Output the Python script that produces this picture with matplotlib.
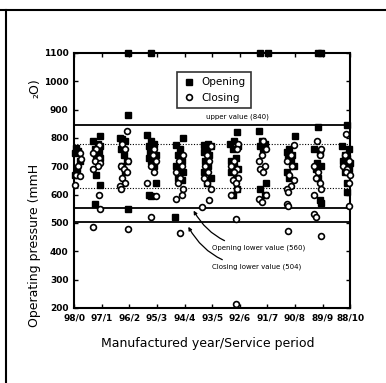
import matplotlib.pyplot as plt
from matplotlib.lines import Line2D

# x labels: manufactured year / service period
periods = ["98/0", "97/1", "96/2", "95/3", "94/4", "93/5",
           "92/6", "91/7", "90/8", "89/9", "88/10"]

# opening pressure (mmH2O) per group, with x offset from the tick
open_y = [
    [765, 755, 745, 720, 690, 670],
    [805, 790, 780, 770, 760, 750, 740, 730, 720, 670, 635, 565],
    [1100, 880, 800, 795, 790, 760, 740, 720, 700, 680, 550],
    [1100, 810, 790, 780, 770, 760, 750, 740, 730, 720, 700, 640, 600, 595],
    [800, 775, 760, 740, 720, 700, 690, 680, 660, 650, 520],
    [780, 775, 770, 760, 750, 740, 720, 700, 680, 660, 640],
    [820, 790, 780, 770, 760, 730, 720, 700, 690, 680, 660, 620, 600],
    [1100, 1100, 825, 790, 780, 770, 760, 640, 620, 600],
    [805, 760, 750, 740, 730, 720, 700, 680, 660],
    [1100, 1100, 840, 760, 750, 710, 700, 690, 660, 580, 570],
    [845, 770, 760, 740, 730, 720, 710, 700, 690, 680, 640, 610],
]
open_dx = [
    [0.08, 0.15, 0.05, 0.2, 0.1, 0.05],
    [-0.05, -0.3, -0.15, -0.05, -0.25, -0.1, -0.2, -0.05, -0.15, -0.2, -0.05, -0.25],
    [-0.05, -0.05, -0.35, -0.25, -0.15, -0.3, -0.2, -0.1, -0.25, -0.15, -0.05],
    [-0.2, -0.35, -0.2, -0.1, -0.3, -0.15, -0.25, -0.05, -0.3, -0.2, -0.1, -0.05, -0.3, -0.2],
    [-0.05, -0.3, -0.15, -0.25, -0.1, -0.3, -0.15, -0.05, -0.25, -0.1, -0.35],
    [-0.15, -0.3, -0.05, -0.2, -0.3, -0.1, -0.25, -0.15, -0.3, -0.05, -0.2],
    [-0.1, -0.2, -0.35, -0.05, -0.25, -0.15, -0.3, -0.2, -0.05, -0.3, -0.15, -0.1, -0.25],
    [-0.25, 0.03, -0.3, -0.2, -0.1, -0.25, -0.15, -0.05, -0.25, -0.1],
    [0.0, -0.2, -0.3, -0.1, -0.25, -0.15, -0.05, -0.3, -0.2],
    [-0.15, -0.05, -0.15, -0.3, -0.1, -0.2, -0.05, -0.25, -0.15, -0.1, -0.05],
    [-0.1, -0.3, -0.05, -0.2, -0.1, -0.25, 0.0, -0.15, -0.05, -0.2, -0.1, -0.1],
]

# closing pressure (mmH2O) per group, with x offset from the tick
close_y = [
    [745, 725, 700, 670, 665, 635],
    [775, 760, 745, 730, 720, 710, 700, 690, 600, 550, 485],
    [825, 780, 760, 720, 700, 690, 680, 660, 640, 630, 620, 480],
    [760, 740, 720, 700, 680, 640, 595, 520],
    [740, 720, 700, 680, 660, 640, 620, 600, 585, 465],
    [770, 740, 720, 700, 680, 660, 640, 620, 580, 555],
    [780, 760, 720, 700, 690, 680, 660, 650, 640, 620, 600, 515, 215],
    [790, 760, 740, 720, 700, 690, 680, 600, 585, 575],
    [775, 740, 720, 700, 670, 650, 630, 620, 610, 565, 560, 470],
    [790, 760, 740, 700, 680, 660, 640, 620, 600, 530, 520, 455],
    [815, 740, 720, 700, 690, 680, 670, 640, 560],
]
close_dx = [
    [0.2, 0.25, 0.15, 0.08, 0.22, 0.04],
    [-0.1, -0.2, -0.3, -0.1, -0.25, -0.05, -0.15, -0.3, -0.1, -0.05, -0.3],
    [-0.1, -0.25, -0.15, -0.05, -0.3, -0.2, -0.1, -0.25, -0.15, -0.35, -0.3, -0.05],
    [-0.1, -0.15, -0.05, -0.2, -0.1, -0.35, -0.05, -0.2],
    [-0.05, -0.2, -0.1, -0.3, -0.15, -0.25, -0.05, -0.1, -0.3, -0.15],
    [-0.05, -0.2, -0.1, -0.25, -0.15, -0.3, -0.2, -0.05, -0.1, -0.35],
    [-0.05, -0.1, -0.2, -0.3, -0.1, -0.2, -0.05, -0.25, -0.15, -0.1, -0.3, -0.15, -0.15],
    [-0.15, -0.05, -0.2, -0.3, -0.1, -0.25, -0.15, -0.05, -0.3, -0.2],
    [-0.05, -0.15, -0.3, -0.1, -0.2, -0.05, -0.15, -0.3, -0.25, -0.3, -0.25, -0.25],
    [-0.2, -0.05, -0.1, -0.3, -0.15, -0.25, -0.1, -0.05, -0.3, -0.3, -0.25, -0.05],
    [-0.15, -0.2, -0.05, -0.25, -0.1, -0.15, 0.0, -0.05, -0.05],
]

upper_value = 845
open_lower = 552
close_lower = 503
dotted_lines = [778, 622]

fig = plt.figure(figsize=(3.86, 3.83), dpi=100)
ax = fig.add_axes([0.192, 0.196, 0.715, 0.666])

tick_font = ['Liberation Sans Narrow', 'DejaVu Sans']

for i in range(len(periods)):
    ax.plot([i + d for d in open_dx[i]], open_y[i], 's', color='black',
            markersize=4, clip_on=False, zorder=3)
for i in range(len(periods)):
    ax.plot([i + d for d in close_dx[i]], close_y[i], 'o', mfc='white',
            mec='black', mew=1.2, markersize=4.2, clip_on=False, zorder=4)

ax.axhline(upper_value, color='black', lw=1.3, zorder=2)
ax.axhline(open_lower, color='black', lw=1.3, zorder=2)
ax.axhline(close_lower, color='black', lw=1.3, zorder=2)
for v in dotted_lines:
    ax.axhline(v, color='black', lw=0.8, ls=(0, (1, 1.5)), zorder=2)

ax.set_xlim(0, 10)
ax.set_ylim(200, 1100)
ax.set_xticks(range(len(periods)))
ax.set_xticklabels(periods)
ax.set_yticks(range(200, 1101, 100))
ax.tick_params(direction='in', length=3, width=1, top=True, right=True,
               labelsize=6.5, pad=4)
for lab in ax.get_xticklabels() + ax.get_yticklabels():
    lab.set_family(tick_font)
    lab.set_weight('bold')
for s in ax.spines.values():
    s.set_linewidth(1.5)

ax.text(5.9, 874, "upper value (840)", fontsize=5, ha='center', va='center')
ax.annotate("Opening lower value (560)", xy=(4.28, 552), xytext=(5.0, 412),
            fontsize=5, va='center',
            arrowprops=dict(arrowstyle='-|>', color='black', lw=0.9,
                            mutation_scale=5,
                            connectionstyle='arc3,rad=-0.3'))
ax.annotate("Closing lower value (504)", xy=(4.09, 495), xytext=(5.0, 345),
            fontsize=5, va='center',
            arrowprops=dict(arrowstyle='-|>', color='black', lw=0.9,
                            mutation_scale=5,
                            connectionstyle='arc3,rad=-0.3'))

handles = [Line2D([], [], marker='s', color='black', ls='', markersize=4),
           Line2D([], [], marker='o', mfc='white', mec='black', mew=1.2,
                  ls='', markersize=4.2)]
leg = ax.legend(handles, ["Opening", "Closing"], loc='upper left',
                bbox_to_anchor=(0.355, 0.945), fontsize=7.5, frameon=True,
                fancybox=False, edgecolor='black', handletextpad=0.6,
                borderpad=0.5, labelspacing=0.5, handlelength=1.2)
leg.get_frame().set_linewidth(1.2)

fig.text(0.09, 0.36, "Operating pressure (mmH", rotation=90, fontsize=9,
         ha='center', va='center')
fig.text(0.09, 0.77, "\u2082O)", rotation=90, fontsize=9,
         ha='center', va='center')
fig.text(0.537, 0.104, "Manufactured year/Service period", fontsize=9,
         ha='center', va='center')

# scan frame lines
fig.add_artist(Line2D([0.0, 1.0], [0.975, 0.975], color='black', lw=1.5,
                      transform=fig.transFigure))
fig.add_artist(Line2D([0.015, 0.015], [0.0, 0.975], color='black', lw=1.5,
                      transform=fig.transFigure))

fig.savefig("out.png", dpi=100)
